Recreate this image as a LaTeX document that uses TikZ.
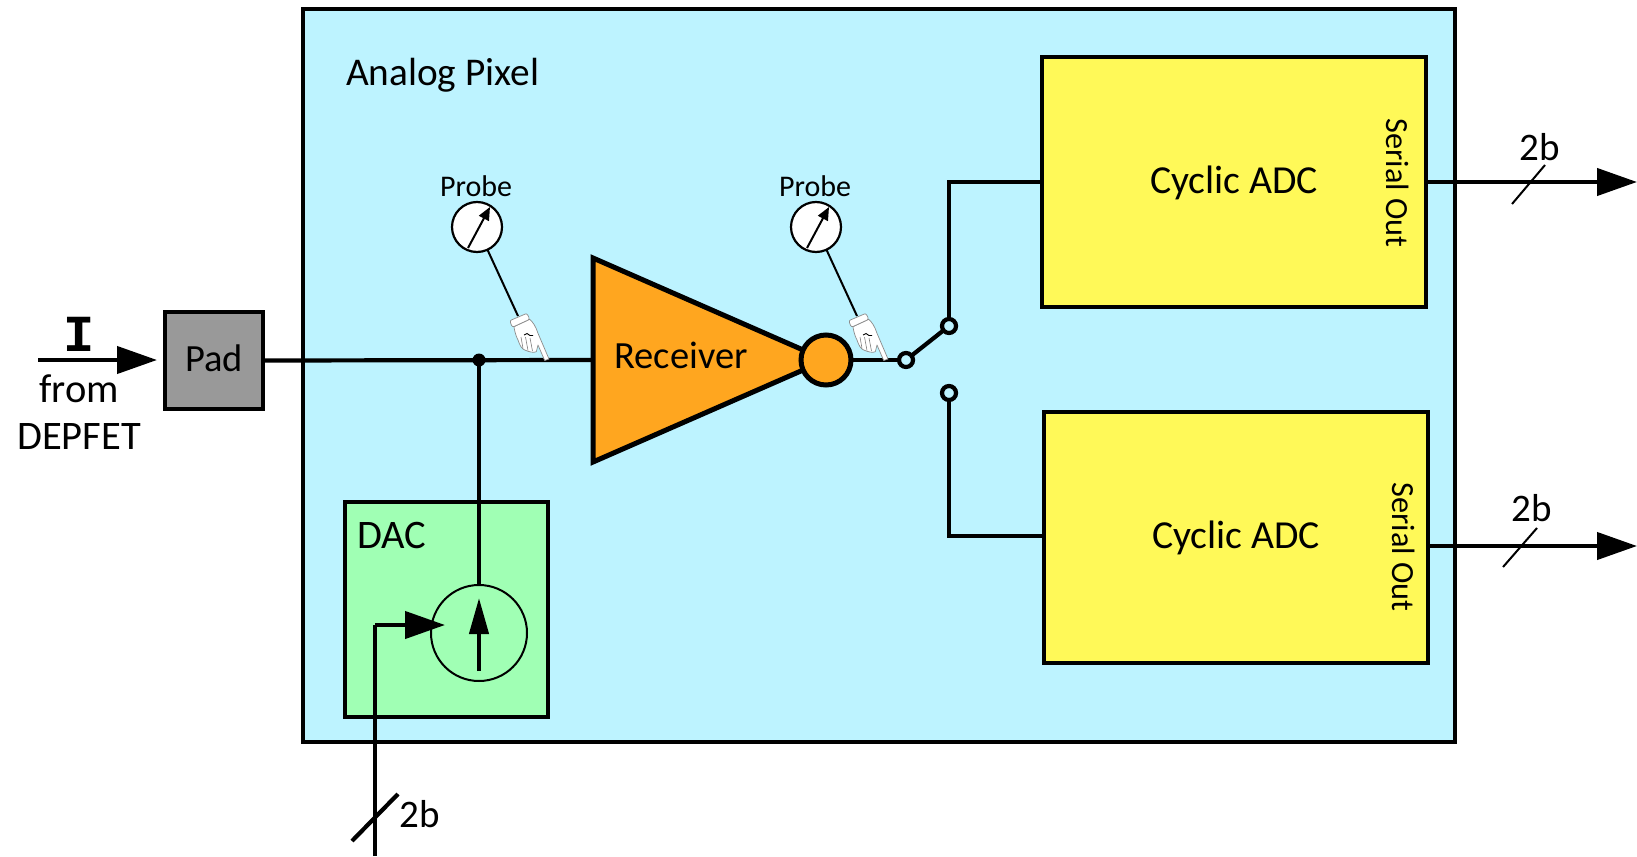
\documentclass[tikz,border=0pt]{standalone}
\usepackage{fontspec}
\setmainfont{Carlito}
\newfontfamily\slabfont[Scale=1]{Liberation Mono}
\usetikzlibrary{arrows.meta,shapes.geometric}
\definecolor{pixelbg}{HTML}{BDF3FF}
\definecolor{adcfill}{HTML}{FFF958}
\definecolor{rxfill}{HTML}{FFA61F}
\definecolor{dacfill}{HTML}{A0FFB4}
\definecolor{padfill}{HTML}{999999}
\newcommand{\fsz}[1]{\fontsize{#1}{#1}\selectfont}
\tikzset{
  blockbox/.style={draw=black,line width=4.6pt,rectangle,inner sep=0pt,outer sep=0pt},
  wire/.style={draw=black,line width=4.2pt},
  bigarrow/.style={wire,-{Triangle[length=40pt,width=27pt]}},
  thinslash/.style={draw=black,line width=2pt},
  meter/.style={circle,draw=black,line width=2.2pt,fill=white,minimum size=50pt,inner sep=0pt,outer sep=0pt},
  needle/.style={draw=black,line width=2pt,-{Triangle[length=13pt,width=11pt]}},
  probewire/.style={draw=black,line width=2pt},
  contact/.style={circle,draw=black,line width=4.2pt,fill=pixelbg,minimum size=14pt,inner sep=0pt,outer sep=0pt},
  txt/.style={inner sep=0pt,outer sep=0pt,text=black},
  hand/.pic={
    \draw[draw=black!45,line width=.7pt,fill=white,line join=round]
      (-34,-33.3) .. controls (-33,-26) and (-31,-22) .. (-30,-20)
      .. controls (-28,-14) and (-26,-11) .. (-23.3,-10)
      .. controls (-19,-8) and (-14,-7) .. (-11.7,-8.3)
      -- (-10,-15) -- (-3.3,0.5) -- (1,-1) -- (-10,-26.7)
      .. controls (-12,-33) and (-15,-38) .. (-18.3,-40.7) -- cycle;
    \draw[draw=black!45,line width=.7pt,fill=white,line join=round,rounded corners=2pt]
      (-38.3,-39.3) -- (-21,-46.7) -- (-18.3,-40.7) -- (-35.7,-32.7) -- cycle;
    \draw[black!50,line width=.6pt] (-27,-23) -- (-25,-11.5) (-22.5,-23) -- (-20,-9.5) (-18,-22) -- (-15.5,-9);
    \draw[black,line width=.9pt] (-24,-25) -- (-21,-26.5) -- (-18,-24.5) -- (-15,-24.5);
  }
}
\begin{document}
\begin{tikzpicture}[x=1pt,y=-1pt]
\useasboundingbox (0,0) rectangle (1637,856);

% blocks
\node[blockbox,line width=4pt,fill=pixelbg,minimum width=1152pt,minimum height=732pt,anchor=north west] (pixel) at (303,9.5) {};
\node[blockbox,fill=adcfill,minimum width=384pt,minimum height=250pt,anchor=north west] (adcA) at (1042,57) {};
\node[blockbox,fill=adcfill,minimum width=384pt,minimum height=251pt,anchor=north west] (adcB) at (1044,412) {};
\node[blockbox,fill=dacfill,minimum width=203pt,minimum height=215pt,anchor=north west] (dac) at (345,502) {};
\node[blockbox,fill=padfill,minimum width=98pt,minimum height=97pt,anchor=north west] (pad) at (165,312) {};

% current source
\node[circle,draw=black,line width=2pt,minimum size=96pt,inner sep=0pt,outer sep=0pt] (src) at (479,633) {};

% coordinates
\coordinate (junc) at (479,360);
\coordinate (inL) at (38,360);
\coordinate (inTip) at (157,360);
\coordinate (dacIn) at (375,856);
\coordinate (dacCorner) at (375,625);
\coordinate (dacTip) at (445,625);
\coordinate (srcTail) at (479,671);
\coordinate (srcTip) at (479,598);
\coordinate (outA) at (1637,182);
\coordinate (outB) at (1637,546);
\coordinate (kneeA) at (949,182);
\coordinate (kneeB) at (949,536);
\coordinate (tipA) at (548,360);
\coordinate (tipB) at (887,360);

% receiver
\node[isosceles triangle,isosceles triangle apex angle=47.3,isosceles triangle stretches,draw=black,line width=5pt,fill=rxfill,minimum width=204pt,minimum height=233pt,inner sep=0pt,outer sep=0pt,anchor=lower side] (rx) at (593,360) {};
\node[circle,draw=black,line width=5pt,fill=rxfill,minimum size=50pt,inner sep=0pt,outer sep=0pt] (bubble) at (826,360) {};

% switch
\node[contact] (swC) at (906,360) {};
\node[contact] (swU) at (949,326) {};
\node[contact] (swL) at (949,393) {};

% wires
\draw[wire] (pad.east) -- (rx.lower side);
\draw[wire] (junc) -- (junc |- src.north);
\fill[black] (junc) circle (6.5pt);
\draw[wire] (bubble.east) -- (swC.west);
\draw[wire] (swC) -- (swU);
\draw[wire,line join=miter] (swU.north) -- (kneeA) -- (adcA.west |- kneeA);
\draw[wire,line join=miter] (swL.south) -- (kneeB) -- (adcB.west |- kneeB);
\draw[bigarrow] (inL) -- (inTip);
\draw[bigarrow] (adcA.east |- outA) -- (outA);
\draw[bigarrow] (adcB.east |- outB) -- (outB);
\draw[wire] (dacIn) -- (dacCorner);
\draw[bigarrow,line join=miter] (dacCorner) -- (dacTip);
\draw[wire,-{Triangle[length=36pt,width=19pt]}] (srcTail) -- (srcTip);

% bus slashes
\coordinate (slAa) at (1512,204); \coordinate (slAb) at (1545,165);
\coordinate (slBa) at (1503,567); \coordinate (slBb) at (1537,528);
\coordinate (slCa) at (352,841); \coordinate (slCb) at (398,794);
\draw[thinslash] (slAa) -- (slAb);
\draw[thinslash] (slBa) -- (slBb);
\draw[wire] (slCa) -- (slCb);

% probes
\node[meter] (mA) at (477,227) {};
\node[meter] (mB) at (816,227) {};
\draw[needle] ([shift={(-9,21)}]mA.center) -- ([shift={(13,-20)}]mA.center);
\draw[needle] ([shift={(-9,21)}]mB.center) -- ([shift={(13,-20)}]mB.center);
\pic at (tipA) {hand};
\pic at (tipB) {hand};
\coordinate (cuffA) at (518,316);
\coordinate (cuffB) at (857,316);
\draw[probewire] (mA) -- (cuffA);
\draw[probewire] (mB) -- (cuffB);

% texts
\node[txt,anchor=base west,font=\fsz{39.3}] (tPixel) at (346,86) {Analog Pixel};
\node[txt,anchor=base,font=\fsz{30}] (tPrA) at (476,196) {Probe};
\node[txt,anchor=base,font=\fsz{30}] (tPrB) at (815,196) {Probe};
\node[txt,anchor=base,font=\fsz{38.5}] (tRx) at (681,368) {Receiver};
\node[txt,anchor=base,font=\fsz{38.5}] (tPad) at (214,371) {Pad};
\node[txt,anchor=base,font=\fsz{40.5}] (tDac) at (392,548) {DAC};
\node[txt,anchor=base,font=\fsz{40.5}] (tFrom) at (79,402) {from};
\node[txt,anchor=base,font=\fsz{40.5}] (tDep) at (79,449) {DEPFET};
\node[txt,font=\fsz{39.7}] (tAdcA) at (1234,183) {Cyclic ADC};
\node[txt,font=\fsz{39.7}] (tAdcB) at (1236,538) {Cyclic ADC};
\node[txt,font=\fsz{32.3},rotate=-90] (tSoA) at (1398,183) {Serial Out};
\node[txt,font=\fsz{32.3},rotate=-90] (tSoB) at (1404,547) {Serial Out};
\node[txt,font=\fsz{39}] (t2a) at (1540,147) {2b};
\node[txt,font=\fsz{39}] (t2b) at (1532,508) {2b};
\node[txt,font=\fsz{39}] (t2c) at (420,814) {2b};
\node[txt,anchor=base,font=\fsz{52}\slabfont\bfseries] (tI) at (79,351) {I};
\end{tikzpicture}
\end{document}
